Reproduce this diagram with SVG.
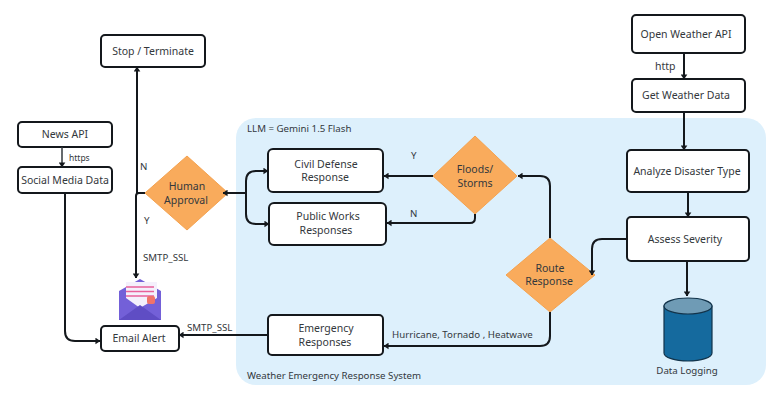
<svg xmlns="http://www.w3.org/2000/svg" width="777" height="415" viewBox="0 0 777 415">
<style>
text{font-family:"Noto Sans","Liberation Sans",sans-serif;font-size:10.5px;fill:#33383c;text-anchor:middle}
.l{text-anchor:start;font-size:9.7px}
.box{fill:#fff;stroke:#14181c;stroke-width:2}
.dia{fill:#f9ab5c;stroke:#f4a24f;stroke-width:1}
.c{fill:none;stroke:#14181c;stroke-width:2}
.t{stroke-width:1.5;stroke:#33383c}
</style>
<defs>
<marker id="a" viewBox="0 0 6 8" refX="5.5" refY="4" markerWidth="5" markerHeight="7" markerUnits="userSpaceOnUse" orient="auto"><path d="M0 0L6 4L0 8Z" fill="#14181c"/></marker>
</defs>
<rect width="777" height="415" fill="#fff"/>
<g id="panel"><rect x="236" y="118" width="530" height="267" rx="20" fill="#ddf0fc"/>
<text class="l" x="247" y="132">LLM = Gemini 1.5 Flash</text>
<text class="l" x="247" y="379">Weather Emergency Response System</text></g>
<g id="stop"><rect class="box" x="101" y="35" width="104" height="32" rx="4"/><text x="153" y="55">Stop / Terminate</text></g>
<g id="news"><rect class="box" x="18" y="122" width="94" height="25" rx="4"/><text x="65" y="138">News API</text></g>
<g id="social"><rect class="box" x="18" y="167" width="94" height="26" rx="4"/><text x="65" y="184">Social Media Data</text></g>
<g id="human"><path class="dia" d="M187 156L228 193L187 230L145 193Z"/><text x="187" y="190">Human</text><text x="186" y="204">Approval</text></g>
<g id="civil"><rect class="box" x="268" y="149" width="115" height="43" rx="5"/><text x="326" y="168">Civil Defense</text><text x="325" y="181">Response</text></g>
<g id="public"><rect class="box" x="269" y="203" width="117" height="42" rx="5"/><text x="328" y="220">Public Works</text><text x="326" y="234">Responses</text></g>
<g id="floods"><path class="dia" d="M475 136L517 176L475 214L433 176Z"/><text x="475" y="173">Floods/</text><text x="475" y="187">Storms</text></g>
<g id="route"><path class="dia" d="M550 238L595 275L550 312L506 275Z"/><text x="550" y="272">Route</text><text x="549" y="285">Response</text></g>
<g id="open"><rect class="box" x="632" y="15" width="113" height="38" rx="4"/><text x="686" y="38">Open Weather API</text></g>
<g id="get"><rect class="box" x="632" y="79" width="113" height="33" rx="4"/><text x="686" y="99">Get Weather Data</text></g>
<g id="analyze"><rect class="box" x="627" y="150" width="122" height="42" rx="4"/><text x="687" y="175">Analyze Disaster Type</text></g>
<g id="assess"><rect class="box" x="627" y="217" width="122" height="44" rx="4"/><text x="685" y="243">Assess Severity</text></g>
<g id="emergency"><rect class="box" x="268" y="315" width="115" height="40" rx="4"/><text x="326" y="332">Emergency</text><text x="325" y="346">Responses</text></g>
<g id="email"><rect class="box" x="101" y="326" width="78" height="25" rx="4"/><text x="139" y="342">Email Alert</text></g>
<g id="cylinder"><path d="M664 306V353A24 8 0 0 0 712 353V306Z" fill="#156a9e" stroke="#12334a" stroke-width="1.2"/><ellipse cx="688" cy="306" rx="24" ry="8" fill="#6f9bb5" stroke="#12334a" stroke-width="1.2"/><text x="687" y="374" style="font-size:9.7px">Data Logging</text></g>
<g id="envelope">
<path d="M119 291L140 279L161 291V320H119Z" fill="#7360d8"/>
<path d="M126 282H157V298L140 308L126 298Z" fill="#f4f0fc"/>
<path d="M126 287H154M126 291.500H154M126 296H154" stroke="#e8609a" stroke-width="1.6"/>
<path d="M119 320L140 305L161 320Z" fill="#5f4dc4"/>
<rect x="147" y="296" width="8" height="8" rx="2" fill="#f0736a"/>
</g>
<g id="connectors">
<path class="c" marker-end="url(#a)" d="M684 53V79"/>
<path class="c" marker-end="url(#a)" d="M684 112V150"/>
<path class="c" marker-end="url(#a)" d="M688 192V217"/>
<path class="c" marker-end="url(#a)" d="M687 261V296"/>
<path class="c" marker-end="url(#a)" d="M627 239H602Q592 239 592 249V275"/>
<path class="c" marker-end="url(#a)" d="M550 238V186Q550 176 540 176H518"/>
<path class="c" marker-end="url(#a)" d="M433 176H384"/>
<path class="c" marker-end="url(#a)" d="M475 214V218Q475 223 470 223H387"/>
<path class="c" marker-end="url(#a)" d="M550 312V336Q550 346 540 346H384"/>
<path class="c" marker-end="url(#a)" d="M268 335H179"/>
<path class="c" marker-end="url(#a)" d="M246 193H223"/>
<path class="c" marker-end="url(#a)" d="M246 193V181Q246 171 256 171H268"/>
<path class="c" marker-end="url(#a)" d="M246 193V214Q246 224 256 224H269"/>
<path class="c" marker-end="url(#a)" d="M145 193H137V67"/>
<path class="c" marker-end="url(#a)" d="M145 193H139Q136 193 136 196V278"/>
<path class="c" marker-end="url(#a)" d="M65 193V331Q65 341 75 341H100"/>
<path class="c t" marker-end="url(#a)" d="M62 147V167"/>
</g>
<g id="labels">
<text class="l" x="69" y="161" style="font-size:8.5px">https</text>
<text class="l" x="140" y="170">N</text>
<text class="l" x="144" y="224">Y</text>
<text class="l" x="143" y="261">SMTP_SSL</text>
<text class="l" x="187" y="331">SMTP_SSL</text>
<text class="l" x="655" y="70" style="font-size:10.5px">http</text>
<text class="l" x="411" y="159">Y</text>
<text class="l" x="410" y="217">N</text>
<text class="l" x="392" y="338">Hurricane, Tornado , Heatwave</text>
</g>
</svg>
